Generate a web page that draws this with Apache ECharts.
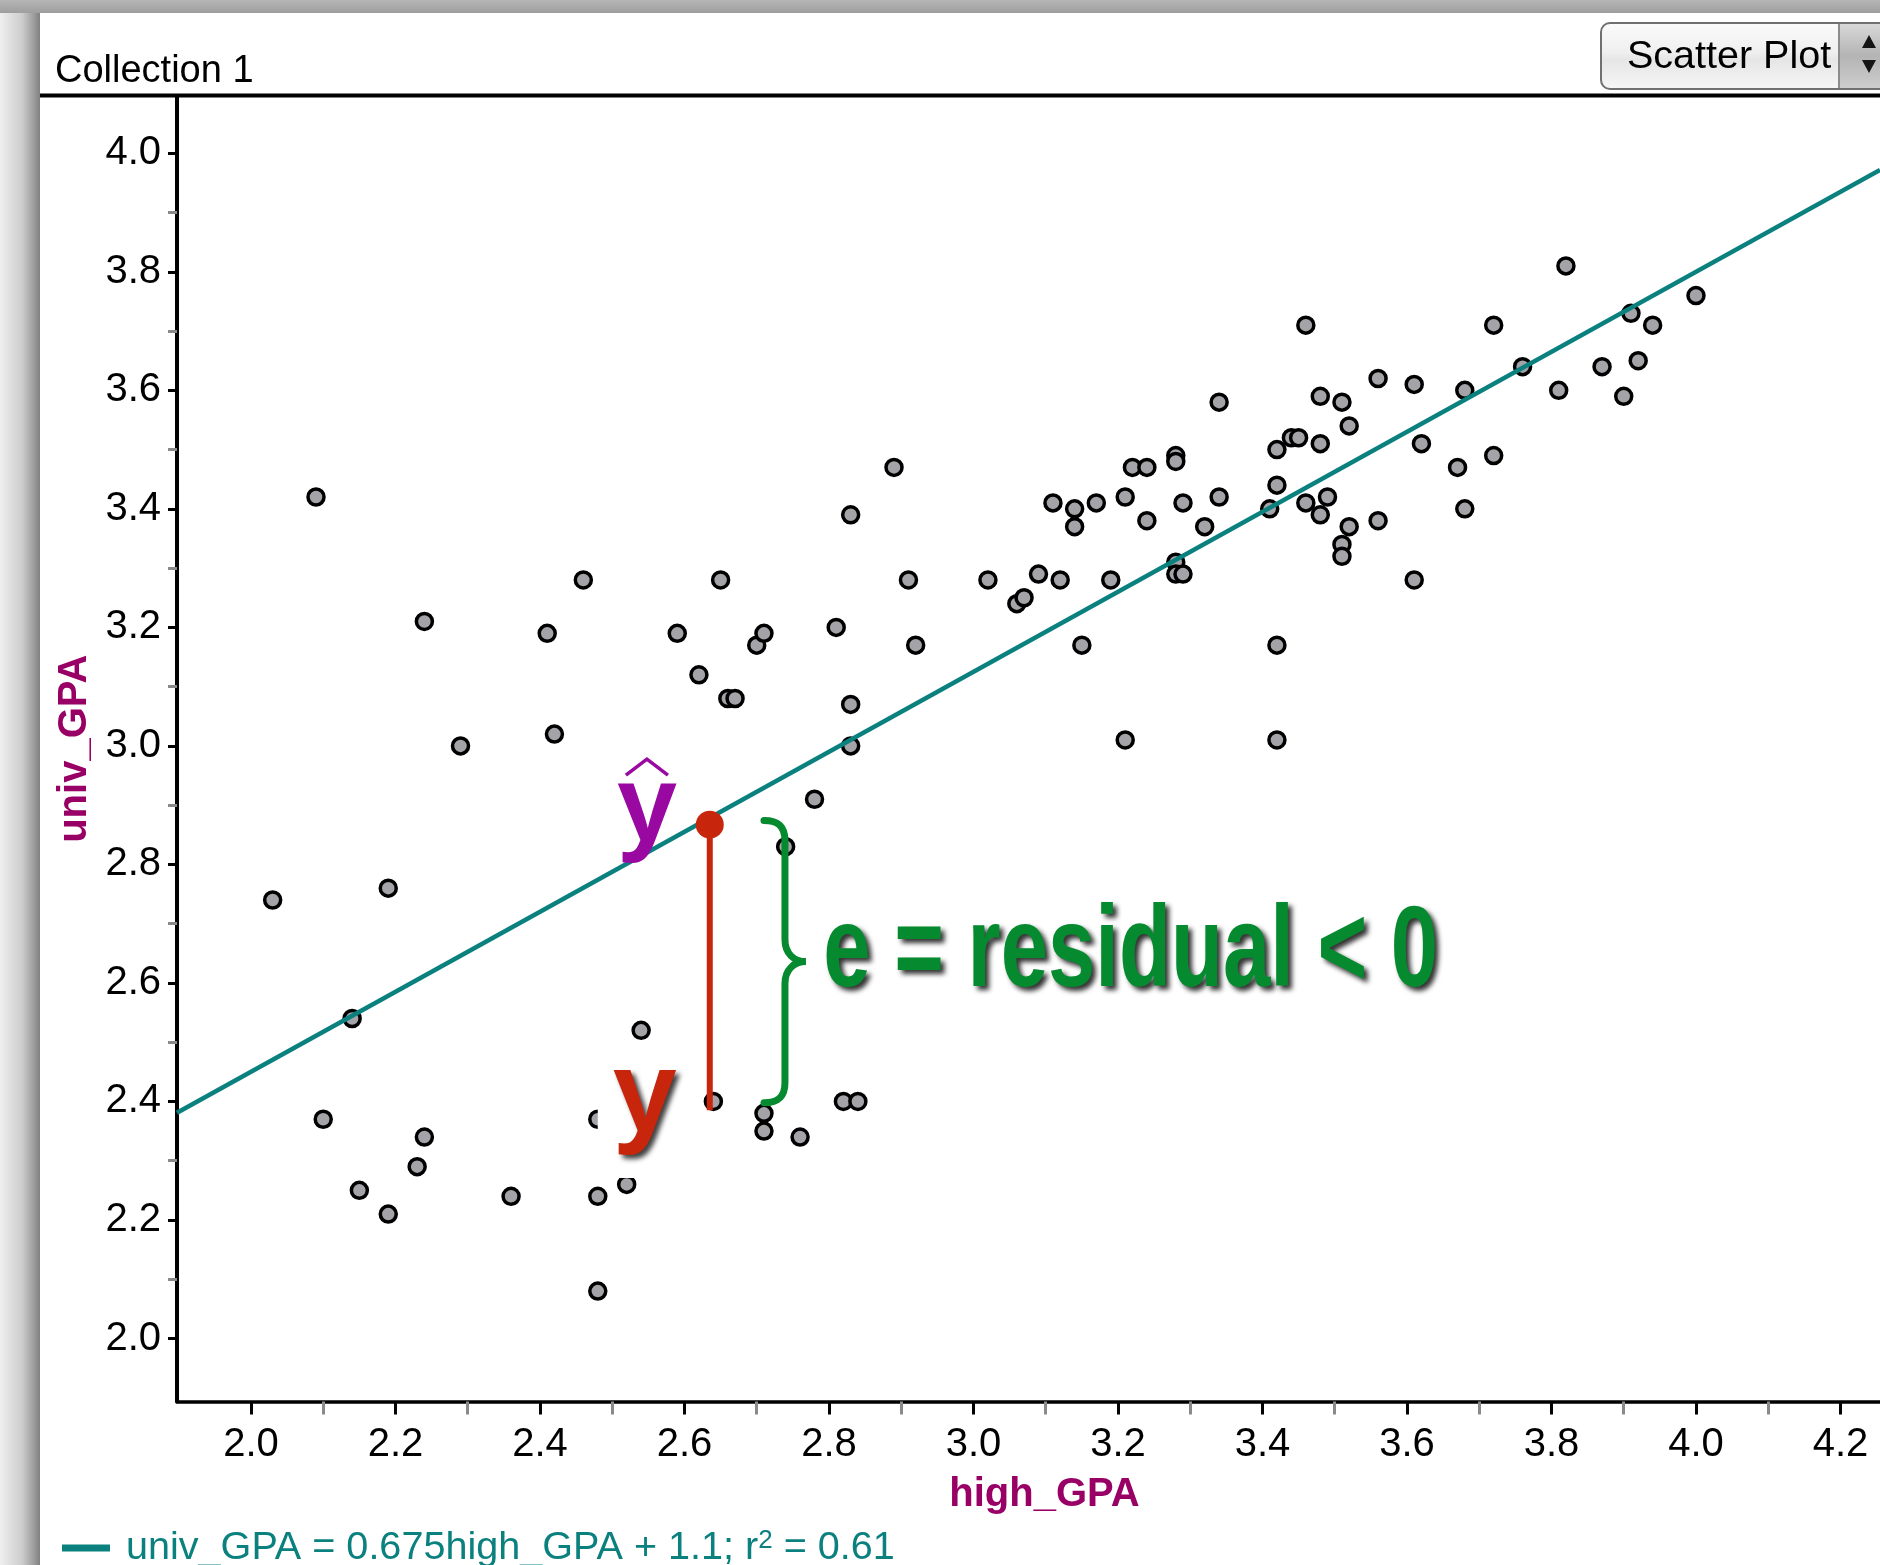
<!DOCTYPE html>
<html>
<head>
<meta charset="utf-8">
<script src="https://cdn.jsdelivr.net/npm/echarts@6/dist/echarts.min.js"></script>
<style>
html,body{margin:0;padding:0;background:#fff;}
#chart{width:1880px;height:1565px;}
</style>
</head>
<body>
<div id="chart"></div>
<script>
// ---------- data ----------
const highGPA = [
  2.09,2.03,2.19,2.14,2.10,2.15,2.19,2.23,2.24,2.24,
  2.29,2.36,2.41,2.42,2.46,2.48,2.48,2.48,2.52,2.54,
  2.59,2.62,2.65,2.64,2.66,2.67,2.70,2.71,2.71,2.71,
  2.74,2.76,2.78,2.81,2.82,2.84,2.83,2.83,2.83,2.89,
  2.91,2.92,3.02,3.06,3.07,3.09,3.11,3.12,3.14,3.14,
  3.15,3.17,3.19,3.21,3.21,3.22,3.24,3.24,3.28,3.28,
  3.28,3.28,3.29,3.29,3.32,3.34,3.34,3.41,3.42,3.42,
  3.42,3.42,3.44,3.45,3.46,3.46,3.48,3.48,3.48,3.49,
  3.51,3.52,3.51,3.51,3.52,3.56,3.56,3.61,3.61,3.62,
  3.67,3.68,3.68,3.72,3.72,3.76,3.81,3.82,3.87,3.90,
  3.91,3.92,3.94,4.00
];
const univGPA = [
  3.42,2.74,2.76,2.54,2.37,2.25,2.21,2.29,2.34,3.21,
  3.00,2.24,3.19,3.02,3.28,2.37,2.24,2.08,2.26,2.52,
  3.19,3.12,3.28,2.40,3.08,3.08,3.17,3.19,2.38,2.35,
  2.83,2.34,2.91,3.20,2.40,2.40,3.07,3.00,3.39,3.47,
  3.28,3.17,3.28,3.24,3.25,3.29,3.41,3.28,3.40,3.37,
  3.17,3.41,3.28,3.42,3.01,3.47,3.47,3.38,3.49,3.48,
  3.31,3.29,3.29,3.41,3.37,3.58,3.42,3.40,3.50,3.44,
  3.17,3.01,3.52,3.52,3.71,3.41,3.59,3.51,3.39,3.42,
  3.58,3.54,3.34,3.32,3.37,3.62,3.38,3.61,3.28,3.51,
  3.47,3.60,3.40,3.71,3.49,3.64,3.60,3.81,3.64,3.59,
  3.73,3.65,3.71,3.76
];
const xMajorTicks = [2.0,2.2,2.4,2.6,2.8,3.0,3.2,3.4,3.6,3.8,4.0,4.2];
const xMinorTicks = [2.1,2.3,2.5,2.7,2.9,3.1,3.3,3.5,3.7,3.9,4.1];
const yMajorTicks = [2.0,2.2,2.4,2.6,2.8,3.0,3.2,3.4,3.6,3.8,4.0];
const yMinorTicks = [2.1,2.3,2.5,2.7,2.9,3.1,3.3,3.5,3.7,3.9];

// regression shown in the legend
const slope = 0.675;
const intercept = 1.1;
const rSquared = 0.61;

// axis extents
const X_MIN = 1.8976, X_MAX = 4.2547;
const Y_MIN = 1.8937, Y_MAX = 4.0967;

// annotation anchors (data units)
const residualX = 2.635;
const yHatValue = 2.867;
const residualEnd = 2.385;
const braceX = 2.71, braceTop = 2.874, braceBottom = 2.398;
const yHatLabelAt = [2.548, 2.846];
const yLabelAt = [2.545, 2.357];
const residualTextAt = [2.792, 2.597];
const residualText = 'e = residual < 0';

// ---------- styles ----------
const FONT = '"Liberation Sans", Arial, Helvetica, sans-serif';
const TEAL = '#0b817f';
const PURPLE_AXIS = '#990066';
const PURPLE = '#9a08a2';
const RED = '#c8260c';
const GREEN = '#068a30';

const points = highGPA.map((x, i) => [x, univGPA[i]]);
const lineName = 'univ_GPA = ' + slope + 'high_GPA + ' + intercept + '; r2 = ' + rSquared;
const legendText = 'univ_GPA = ' + slope + 'high_GPA + ' + intercept + '; r{sup|2} = ' + rSquared;
const lineData = [[X_MIN, slope * X_MIN + intercept], [X_MAX, slope * X_MAX + intercept]];

function lin(stops, vertical) {
  return {type: 'linear', x: 0, y: 0, x2: vertical ? 0 : 1, y2: vertical ? 1 : 0,
    colorStops: stops.map(s => ({offset: s[0], color: s[1]}))};
}

const chart = echarts.init(document.getElementById('chart'), null, {renderer: 'canvas'});

const option = {
  animation: false,
  backgroundColor: '#ffffff',
  title: {
    text: 'Collection 1', left: 55, top: 53, padding: 0,
    textStyle: {fontSize: 38, fontWeight: 'normal', color: '#000', fontFamily: FONT}
  },
  legend: {
    left: 62, top: 1528, padding: 0, selectedMode: false,
    itemWidth: 48, itemHeight: 7,
    data: [{name: lineName, icon: 'rect', itemStyle: {color: TEAL}}],
    formatter: () => legendText,
    textStyle: {
      fontSize: 39.6, color: TEAL, fontFamily: FONT, padding: [0, 0, 0, 11],
      rich: {sup: {fontSize: 26, color: TEAL, fontFamily: FONT, verticalAlign: 'top'}}
    }
  },
  grid: [
    {left: 177, right: 0, top: 96, bottom: 163.5},
    {left: 177, right: 0, top: 96, bottom: 163.5}
  ],
  xAxis: [
    {
      type: 'value', gridIndex: 0, min: X_MIN, max: X_MAX,
      name: 'high_GPA', nameLocation: 'middle', nameGap: 73,
      nameTextStyle: {fontSize: 40, fontWeight: 'bold', color: PURPLE_AXIS, fontFamily: FONT, padding: [0, 0, 0, 32]},
      axisLine: {show: true, onZero: false, lineStyle: {color: '#000', width: 3.5}},
      axisTick: {show: true, customValues: xMajorTicks, length: 13, lineStyle: {color: '#000', width: 3}},
      axisLabel: {show: true, customValues: xMajorTicks, formatter: v => v.toFixed(1), fontSize: 40, color: '#000', fontFamily: FONT, margin: 23},
      splitLine: {show: false}
    },
    {
      type: 'value', gridIndex: 1, min: X_MIN, max: X_MAX,
      axisLine: {show: false},
      axisTick: {show: true, customValues: xMinorTicks, length: 13, lineStyle: {color: '#8a8a8a', width: 3}},
      axisLabel: {show: false},
      splitLine: {show: false}
    }
  ],
  yAxis: [
    {
      type: 'value', gridIndex: 0, min: Y_MIN, max: Y_MAX,
      name: 'univ_GPA', nameLocation: 'middle', nameGap: 82,
      nameTextStyle: {fontSize: 40, fontWeight: 'bold', color: PURPLE_AXIS, fontFamily: FONT},
      axisLine: {show: true, onZero: false, lineStyle: {color: '#000', width: 4}},
      axisTick: {show: true, customValues: yMajorTicks, length: 9, lineStyle: {color: '#000', width: 3}},
      axisLabel: {show: true, customValues: yMajorTicks, formatter: v => v.toFixed(1), fontSize: 40, color: '#000', fontFamily: FONT, margin: 16},
      splitLine: {show: false}
    },
    {
      type: 'value', gridIndex: 1, min: Y_MIN, max: Y_MAX,
      axisLine: {show: false},
      axisTick: {show: true, customValues: yMinorTicks, length: 9, lineStyle: {color: '#8a8a8a', width: 3}},
      axisLabel: {show: false},
      splitLine: {show: false}
    }
  ],
  graphic: [
    {type: 'rect', z: -10, shape: {x: 0, y: 0, width: 40, height: 1565},
      style: {fill: lin([[0, '#efefef'], [0.55, '#cdcdcd'], [0.85, '#9c9c9c'], [1, '#808080']], false)}},
    {type: 'rect', z: -10, shape: {x: 0, y: 0, width: 1880, height: 13},
      style: {fill: lin([[0, '#b6b6b6'], [1, '#9e9e9e']], true)}},
    {type: 'line', z: 10, shape: {x1: 40, y1: 95.5, x2: 1880, y2: 95.5}, style: {stroke: '#000', lineWidth: 4}},
    {type: 'rect', z: 10, shape: {x: 1601, y: 23, width: 320, height: 66, r: 9},
      style: {fill: lin([[0, '#fbfbfb'], [0.45, '#efefef'], [0.55, '#e6e6e6'], [1, '#f6f6f6']], true), stroke: '#707070', lineWidth: 2}},
    {type: 'rect', z: 11, shape: {x: 1839, y: 24, width: 60, height: 64},
      style: {fill: lin([[0, '#d8d8d8'], [0.5, '#b4b4b4'], [1, '#cdcdcd']], true)}},
    {type: 'line', z: 12, shape: {x1: 1839, y1: 24, x2: 1839, y2: 88}, style: {stroke: '#8c8c8c', lineWidth: 2}},
    {type: 'polygon', z: 12, shape: {points: [[1862, 48], [1869, 35], [1876, 48]]}, style: {fill: '#151515'}},
    {type: 'polygon', z: 12, shape: {points: [[1862, 60], [1869, 73], [1876, 60]]}, style: {fill: '#151515'}},
    {type: 'text', z: 12, x: 1627, y: 57.5,
      style: {text: 'Scatter Plot', font: '39.5px ' + FONT, fill: '#000', align: 'left', verticalAlign: 'middle'}}
  ],
  series: [
    {
      type: 'scatter', xAxisIndex: 0, yAxisIndex: 0, z: 2, silent: true,
      symbol: 'circle', symbolSize: 16,
      itemStyle: {color: '#a3a3a8', borderColor: '#000', borderWidth: 3.5, opacity: 1},
      data: points
    },
    {
      name: lineName, type: 'line', xAxisIndex: 0, yAxisIndex: 0, z: 3, silent: true,
      symbol: 'none', itemStyle: {color: TEAL},
      lineStyle: {color: TEAL, width: 4.5},
      data: lineData
    },
    {
      // residual segment and fitted value
      type: 'custom', xAxisIndex: 0, yAxisIndex: 0, z: 6, silent: true,
      data: [[residualX, yHatValue, residualEnd]],
      renderItem: (params, api) => {
        const top = api.coord([api.value(0), api.value(1)]);
        const bot = api.coord([api.value(0), api.value(2)]);
        return {type: 'group', children: [
          {type: 'line', shape: {x1: top[0], y1: top[1], x2: bot[0], y2: bot[1]}, style: {stroke: RED, lineWidth: 6}},
          {type: 'circle', shape: {cx: top[0], cy: top[1], r: 14}, style: {fill: RED}}
        ]};
      }
    },
    {
      // curly brace
      type: 'custom', xAxisIndex: 0, yAxisIndex: 0, z: 6, silent: true,
      data: [[braceX, braceTop, braceBottom]],
      renderItem: (params, api) => {
        const t = api.coord([api.value(0), api.value(1)]);
        const b = api.coord([api.value(0), api.value(2)]);
        const x0 = t[0], yt = t[1], yb = b[1], m = (yt + yb) / 2;
        const d = 'M' + x0 + ' ' + yt +
          ' C' + (x0 + 12) + ' ' + yt + ' ' + (x0 + 21) + ' ' + (yt + 4) + ' ' + (x0 + 21) + ' ' + (yt + 20) +
          ' L' + (x0 + 21) + ' ' + (m - 22) +
          ' C' + (x0 + 21) + ' ' + (m - 8) + ' ' + (x0 + 30) + ' ' + m + ' ' + (x0 + 42) + ' ' + m +
          ' C' + (x0 + 30) + ' ' + m + ' ' + (x0 + 21) + ' ' + (m + 8) + ' ' + (x0 + 21) + ' ' + (m + 22) +
          ' L' + (x0 + 21) + ' ' + (yb - 20) +
          ' C' + (x0 + 21) + ' ' + (yb - 4) + ' ' + (x0 + 12) + ' ' + yb + ' ' + x0 + ' ' + yb;
        return {type: 'path', shape: {pathData: d}, style: {stroke: GREEN, lineWidth: 7, fill: null, lineCap: 'round'}};
      }
    },
    {
      // y-hat label
      type: 'custom', xAxisIndex: 0, yAxisIndex: 0, z: 7, silent: true,
      data: [yHatLabelAt],
      renderItem: (params, api) => {
        const p = api.coord([api.value(0), api.value(1)]);
        return {type: 'group', children: [
          {type: 'text', x: p[0], y: p[1] - 26,
            style: {text: 'y', font: 'bold 108px ' + FONT, fill: PURPLE, align: 'center', verticalAlign: 'middle'}},
          {type: 'polyline', shape: {points: [[p[0] - 21, p[1] - 62], [p[0], p[1] - 78], [p[0] + 21, p[1] - 62]]},
            style: {stroke: PURPLE, lineWidth: 3.5, fill: null}}
        ]};
      }
    },
    {
      // observed y label with its white backing
      type: 'custom', xAxisIndex: 0, yAxisIndex: 0, z: 7, silent: true,
      data: [yLabelAt],
      renderItem: (params, api) => {
        const p = api.coord([api.value(0), api.value(1)]);
        return {type: 'group', children: [
          {type: 'rect', shape: {x: p[0] - 47, y: p[1] - 72, width: 92, height: 123}, style: {fill: '#fff'}},
          {type: 'text', x: p[0], y: p[1] - 28,
            style: {text: 'y', font: 'bold 115px ' + FONT, fill: RED, align: 'center', verticalAlign: 'middle',
              shadowColor: 'rgba(0,0,0,0.75)', shadowBlur: 5, shadowOffsetX: 4, shadowOffsetY: 4,
              textShadowColor: 'rgba(0,0,0,0.75)', textShadowBlur: 5, textShadowOffsetX: 4, textShadowOffsetY: 4}}
        ]};
      }
    },
    {
      // residual caption
      type: 'custom', xAxisIndex: 0, yAxisIndex: 0, z: 7, silent: true,
      data: [residualTextAt],
      renderItem: (params, api) => {
        const p = api.coord([api.value(0), api.value(1)]);
        return {type: 'text', x: p[0], y: p[1] - 30, scaleX: 0.74, scaleY: 1,
          style: {text: residualText, font: 'bold 115px ' + FONT, fill: GREEN, align: 'left', verticalAlign: 'middle',
            shadowColor: 'rgba(0,0,0,0.8)', shadowBlur: 5, shadowOffsetX: 4, shadowOffsetY: 4,
            textShadowColor: 'rgba(0,0,0,0.8)', textShadowBlur: 5, textShadowOffsetX: 4, textShadowOffsetY: 4}};
      }
    }
  ]
};

chart.setOption(option);
</script>
</body>
</html>
